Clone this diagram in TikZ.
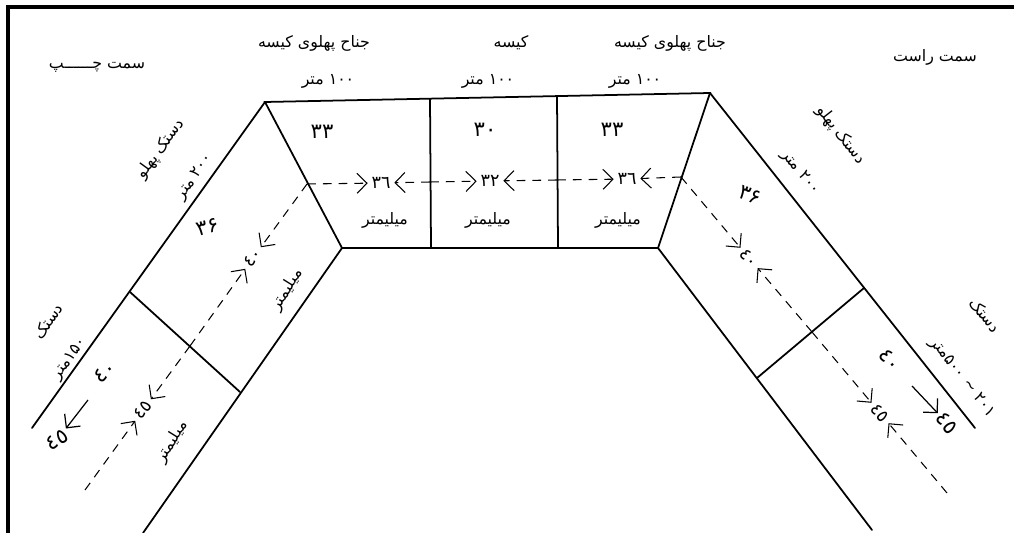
\documentclass[tikz,border=0pt]{standalone}
\usepackage{fontspec}
\newfontfamily\fafont[Script=Arabic]{DejaVu Sans}
\TeXXeTstate=1
\usetikzlibrary{arrows.meta}
\newcommand{\fatext}[1]{\beginR #1\endR}

\begin{document}
\begin{tikzpicture}[x=0.02cm, y=-0.02cm,
    net/.style={line width=1pt, line cap=round},
    frame/.style={line width=1.8pt},
    lbl/.style={font={\fafont\fontsize{9}{10}\selectfont}, inner sep=1pt},
    hand/.style={font={\fafont\fontsize{12}{14}\selectfont}, inner sep=1pt},
    num/.style={font={\fafont\fontsize{10}{12}\selectfont}, inner sep=2pt},
    dim/.style={dash pattern=on 5pt off 4pt, line width=0.6pt, -{Straight Barb[length=2mm]}},
    tip/.style={line width=0.7pt, -{Straight Barb[length=2mm]}}
]
\useasboundingbox (0,0) rectangle (1014,533);
\draw[frame] (8,533) -- (8,7) -- (1014,7);

\coordinate (tl) at (265,102);
\coordinate (tr) at (710,93);
\coordinate (bl) at (342,248);
\coordinate (br) at (658,248);
\coordinate (d1t) at (430,99);
\coordinate (d1b) at (431,247);
\coordinate (d2t) at (557,96);
\coordinate (d2b) at (558,247);
\coordinate (lo) at (32,428);
\coordinate (li) at (143,533);
\coordinate (lda) at (130,292);
\coordinate (ldb) at (240,392);
\coordinate (ro) at (975,428);
\coordinate (ri) at (872,530);
\coordinate (rda) at (864,288);
\coordinate (rdb) at (757,378);

\draw[net] (tl) -- (tr) -- (br) -- (bl) -- cycle;
\draw[net] (d1t) -- (d1b);
\draw[net] (d2t) -- (d2b);
\draw[net] (tl) -- (lo);
\draw[net] (bl) -- (li);
\draw[net] (lda) -- (ldb);
\draw[net] (tr) -- (ro);
\draw[net] (br) -- (ri);
\draw[net] (rda) -- (rdb);

\node[lbl] (leftside) at (97,67) {\fatext{سمت چــــــپ}};
\node[lbl] (rightside) at (935,57) {\fatext{سمت راست}};
\node[lbl] (wingl) at (314,43) {\fatext{جناح پهلوی کیسه}};
\node[lbl] (bag) at (511,43) {\fatext{کیسه}};
\node[lbl] (wingr) at (670,43) {\fatext{جناح پهلوی کیسه}};
\node[lbl] (winglen) at (328,81) {\fatext{\beginL۱۰۰\endL{} متر}};
\node[lbl] (baglen) at (488,81) {\fatext{\beginL۱۰۰\endL{} متر}};
\node[lbl] (wingrlen) at (635,81) {\fatext{\beginL۱۰۰\endL{} متر}};

\node[lbl, rotate=54] (armtl) at (161,149) {\fatext{دستک پهلو}};
\node[lbl, rotate=54] (armtllen) at (195,177) {\fatext{\beginL۲۰۰\endL{} متر}};
\node[lbl, rotate=-52] (armtr) at (841,135) {\fatext{دستک پهلو}};
\node[lbl, rotate=-52] (armtrlen) at (800,173) {\fatext{\beginL۲۰۰\endL{} متر}};
\node[lbl, rotate=54] (armbl) at (48,321) {\fatext{دستک}};
\node[lbl, rotate=54] (armbllen) at (70,359) {\fatext{\beginL۱۵۰\endL{}متر}};
\node[lbl, rotate=-52] (armbr) at (985,315) {\fatext{دستک}};
\node[lbl, rotate=-52] (armbrlen) at (962,378) {\fatext{\beginL۲۰۱\endL{} \string~ \beginL۵۰۰\endL{}متر}};

\node[lbl] (mm1) at (385,220) {\fatext{میلیمتر}};
\node[lbl] (mm2) at (488,220) {\fatext{میلیمتر}};
\node[lbl] (mm3) at (618,220) {\fatext{میلیمتر}};
\node[lbl, rotate=58] (mm4) at (287,290) {\fatext{میلیمتر}};
\node[lbl, rotate=58] (mm5) at (172,442) {\fatext{میلیمتر}};

\node[hand] (b33l) at (322,132) {۳۳};
\node[hand] (b30) at (485,130) {۳۰};
\node[hand] (b33r) at (612,130) {۳۳};
\node[hand, rotate=15] (b36l) at (208,227) {۳۶};
\node[hand, rotate=-20] (b36r) at (750,195) {۳۶};
\node[hand, rotate=40] (b40l) at (105,372) {٤٠};
\node[hand, rotate=30] (b45l) at (57,440) {٤٥};
\node[hand, rotate=-50] (b40r) at (890,360) {٤٠};
\node[hand, rotate=-50] (b45r) at (947,423) {٤٥};
\coordinate (al) at (88,400);
\coordinate (ar) at (912,386);
\draw[tip] (al) -- (b45l);
\draw[tip] (ar) -- (b45r);

\coordinate (ma) at (307,184);
\coordinate (mc1) at (430,182);
\coordinate (mc2) at (557,180);
\coordinate (mb) at (681,177);
\coordinate (lx) at (190,346);
\coordinate (le) at (85,490);
\coordinate (rx) at (812,332);
\coordinate (re) at (947,493);

\node[num] (m36l) at (381,183) {٣٦};
\node[num] (m32) at (490,181) {٣٢};
\node[num] (m36r) at (627,179) {٣٦};
\node[num, rotate=54] (m40l) at (253,258) {٤٠};
\node[num, rotate=54] (m45l) at (143,410) {٤٥};
\node[num, rotate=-50] (m40r) at (749,258) {٤٠};
\node[num, rotate=-50] (m45r) at (880,413) {٤٥};

\draw[dim] (ma) -- (m36l);
\draw[dim] (mc1) -- (m36l);
\draw[dim] (mc1) -- (m32);
\draw[dim] (mc2) -- (m32);
\draw[dim] (mc2) -- (m36r);
\draw[dim] (mb) -- (m36r);
\draw[dim] (ma) -- (m40l);
\draw[dim] (lx) -- (m40l);
\draw[dim] (lx) -- (m45l);
\draw[dim] (le) -- (m45l);
\draw[dim] (mb) -- (m40r);
\draw[dim] (rx) -- (m40r);
\draw[dim] (rx) -- (m45r);
\draw[dim] (re) -- (m45r);
\end{tikzpicture}
\end{document}
